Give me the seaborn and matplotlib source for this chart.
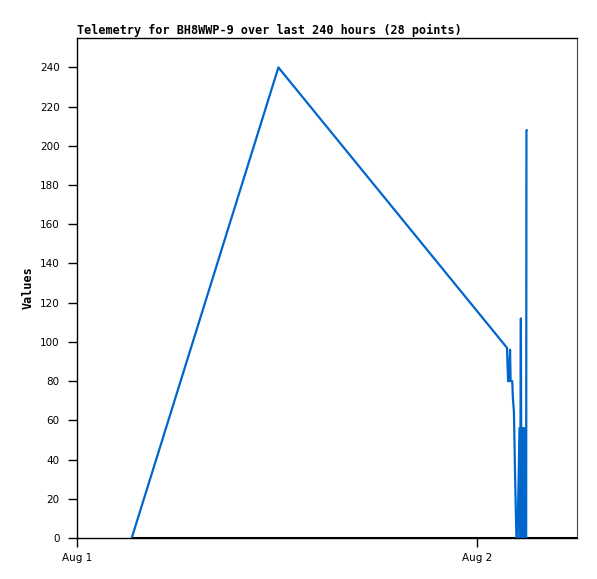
import pandas as pd
import matplotlib
matplotlib.use("Agg")
import matplotlib.pyplot as plt
import matplotlib.dates as mdates
import seaborn as sns

# telemetry samples
timestamps = [
    "2024-08-01 03:17", "2024-08-01 12:05",
    "2024-08-02 01:48", "2024-08-02 01:50", "2024-08-02 01:52", "2024-08-02 01:53",
    "2024-08-02 01:55", "2024-08-02 01:59", "2024-08-02 02:01", "2024-08-02 02:07",
    "2024-08-02 02:09", "2024-08-02 02:13", "2024-08-02 02:17", "2024-08-02 02:22",
    "2024-08-02 02:26", "2024-08-02 02:33", "2024-08-02 02:35", "2024-08-02 02:38",
    "2024-08-02 02:40", "2024-08-02 02:42", "2024-08-02 02:44", "2024-08-02 02:46",
    "2024-08-02 02:48", "2024-08-02 02:50", "2024-08-02 02:53", "2024-08-02 02:57",
    "2024-08-02 02:58", "2024-08-02 02:59",
]
values = [
    0, 240,
    97, 88, 80, 88,
    80, 96, 80, 80,
    72, 64, 32, 0,
    0, 56, 0, 112,
    0, 56, 0, 56,
    0, 56, 0, 0,
    208, 208,
]
x_start = pd.Timestamp("2024-08-01 00:00")
x_end = pd.Timestamp("2024-08-02 06:00")
y_ticks = list(range(0, 241, 20))

df = pd.DataFrame({"time": pd.to_datetime(timestamps), "value": values})

sns.set_style("white")
plt.rcParams["font.family"] = ["DejaVu Sans"]

fig = plt.figure(figsize=(5.97, 5.79), dpi=100)
ax = fig.add_axes([77 / 597, 1 - 538 / 579, 500 / 597, 500 / 579])

# zero baseline from first sample to the end of the window
ax.hlines(0, df["time"].iloc[0], x_end, color="black", linewidth=2.2, zorder=3)
sns.lineplot(data=df, x="time", y="value", ax=ax, color="#0066cc",
             linewidth=1.6, estimator=None, zorder=4)

ax.set_xlim(x_start, x_end)
ax.set_ylim(0, 255)
ax.set_yticks(y_ticks)
ax.xaxis.set_major_locator(mdates.DayLocator())
ax.xaxis.set_major_formatter(mdates.DateFormatter("%b %-d"))

ax.tick_params(axis="both", direction="out", length=6.5, width=1, color="black",
               labelcolor="black", labelsize=7.5, left=True, bottom=True)
ax.tick_params(axis="y", pad=6)
ax.tick_params(axis="x", pad=4)
for side in ["left", "bottom", "top"]:
    ax.spines[side].set_color("black")
    ax.spines[side].set_linewidth(1)
ax.spines["right"].set_color("#444444")

ax.set_xlabel("")
ax.set_ylabel("Values", fontsize=8.5, fontweight="bold", family="DejaVu Sans Mono",
              color="black", labelpad=4)
ax.set_title("Telemetry for BH8WWP-9 over last 240 hours (28 points)", loc="left",
             fontsize=8.5, fontweight="bold", family="DejaVu Sans Mono", color="black", pad=3)

fig.savefig("out.png", dpi=100)
